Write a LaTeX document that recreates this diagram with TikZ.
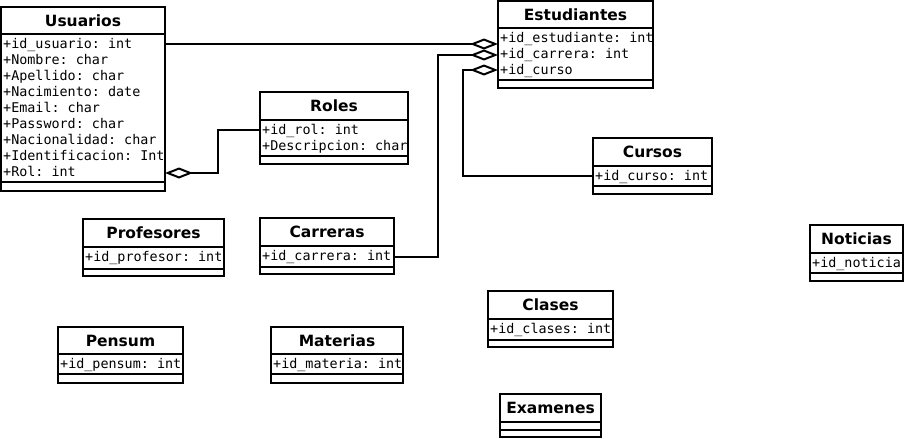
\documentclass[tikz,border=0pt]{standalone}
\usepackage{fontspec}
\setmainfont{DejaVu Sans}
\setmonofont{DejaVu Sans Mono}
\usetikzlibrary{arrows.meta}
\tikzset{
  cls/.style={draw, line width=2.5pt, rectangle, outer sep=0pt, inner sep=0pt, anchor=north west},
  ttl/.style={font=\fontsize{15.5}{18}\selectfont\bfseries, inner sep=0pt},
  att/.style={font=\fontsize{13.4}{16}\selectfont\ttfamily, inner sep=0pt, anchor=base west},
  sepl/.style={line width=2.5pt},
  assoc/.style={line width=2pt, -{Diamond[open, length=28pt, width=11pt]}},
}
\begin{document}
\begin{tikzpicture}[x=1pt, y=-1pt]
\fill[white] (0,0) rectangle (905,439);
\useasboundingbox (0,0) rectangle (905,439);

% Usuarios
\node[cls, minimum width=164pt, minimum height=184pt] (usuarios) at (1,7) {};
\draw[sepl] (usuarios.west |- 0,34) -- (usuarios.east |- 0,34);
\draw[sepl] (usuarios.west |- 0,182) -- (usuarios.east |- 0,182);
\node[ttl] (usuariosT) at (83,20.5) {Usuarios};
\node[att] (u1) at (3,48) {+id\_usuario: int};
\node[att] (u2) at (3,64.1) {+Nombre: char};
\node[att] (u3) at (3,80.2) {+Apellido: char};
\node[att] (u4) at (3,96.3) {+Nacimiento: date};
\node[att] (u5) at (3,112.4) {+Email: char};
\node[att] (u6) at (3,128.5) {+Password: char};
\node[att] (u7) at (3,144.6) {+Nacionalidad: char};
\node[att] (u8) at (3,160.7) {+Identificacion: Int};
\node[att] (u9) at (3,176.8) {+Rol: int};

% Estudiantes
\node[cls, minimum width=155pt, minimum height=87pt] (estudiantes) at (498,1) {};
\draw[sepl] (estudiantes.west |- 0,28) -- (estudiantes.east |- 0,28);
\draw[sepl] (estudiantes.west |- 0,80) -- (estudiantes.east |- 0,80);
\node[ttl] (estudiantesT) at (575.5,14.5) {Estudiantes};
\node[att] (e1) at (500,42.5) {+id\_estudiante: int};
\node[att] (e2) at (500,58.5) {+id\_carrera: int};
\node[att] (e3) at (500,74.5) {+id\_curso};

% Roles
\node[cls, minimum width=148pt, minimum height=72pt] (roles) at (260,92) {};
\draw[sepl] (roles.west |- 0,120) -- (roles.east |- 0,120);
\draw[sepl] (roles.west |- 0,156) -- (roles.east |- 0,156);
\node[ttl] (rolesT) at (334,106) {Roles};
\node[att] (r1) at (262,134) {+id\_rol: int};
\node[att] (r2) at (262,150) {+Descripcion: char};

% Cursos
\node[cls, minimum width=119pt, minimum height=56pt] (cursos) at (593,138) {};
\draw[sepl] (cursos.west |- 0,166) -- (cursos.east |- 0,166);
\draw[sepl] (cursos.west |- 0,186) -- (cursos.east |- 0,186);
\node[ttl] (cursosT) at (652.5,152) {Cursos};
\node[att] (c1) at (595,180) {+id\_curso: int};

% Profesores
\node[cls, minimum width=141pt, minimum height=57pt] (profesores) at (83,219) {};
\draw[sepl] (profesores.west |- 0,247) -- (profesores.east |- 0,247);
\draw[sepl] (profesores.west |- 0,269) -- (profesores.east |- 0,269);
\node[ttl] (profesoresT) at (153.5,233) {Profesores};
\node[att] (p1) at (85,261) {+id\_profesor: int};

% Carreras
\node[cls, minimum width=134pt, minimum height=56pt] (carreras) at (260,218) {};
\draw[sepl] (carreras.west |- 0,246) -- (carreras.east |- 0,246);
\draw[sepl] (carreras.west |- 0,267) -- (carreras.east |- 0,267);
\node[ttl] (carrerasT) at (327,232) {Carreras};
\node[att] (ca1) at (262,260) {+id\_carrera: int};

% Pensum
\node[cls, minimum width=125pt, minimum height=56pt] (pensum) at (58,327) {};
\draw[sepl] (pensum.west |- 0,354) -- (pensum.east |- 0,354);
\draw[sepl] (pensum.west |- 0,374) -- (pensum.east |- 0,374);
\node[ttl] (pensumT) at (120.5,340.5) {Pensum};
\node[att] (pe1) at (60,368) {+id\_pensum: int};

% Materias
\node[cls, minimum width=132pt, minimum height=56pt] (materias) at (271,327) {};
\draw[sepl] (materias.west |- 0,354) -- (materias.east |- 0,354);
\draw[sepl] (materias.west |- 0,374) -- (materias.east |- 0,374);
\node[ttl] (materiasT) at (337,340.5) {Materias};
\node[att] (m1) at (273,368) {+id\_materia: int};

% Noticias
\node[cls, minimum width=93pt, minimum height=56pt] (noticias) at (810,225) {};
\draw[sepl] (noticias.west |- 0,253) -- (noticias.east |- 0,253);
\draw[sepl] (noticias.west |- 0,273) -- (noticias.east |- 0,273);
\node[ttl] (noticiasT) at (856.5,239) {Noticias};
\node[att] (n1) at (812,267) {+id\_noticia};

% Clases
\node[cls, minimum width=125pt, minimum height=56pt] (clases) at (488,291) {};
\draw[sepl] (clases.west |- 0,319) -- (clases.east |- 0,319);
\draw[sepl] (clases.west |- 0,340) -- (clases.east |- 0,340);
\node[ttl] (clasesT) at (550.5,305) {Clases};
\node[att] (cl1) at (490,333) {+id\_clases: int};

% Examenes
\node[cls, minimum width=101pt, minimum height=43pt] (examenes) at (500,394) {};
\draw[sepl] (examenes.west |- 0,422) -- (examenes.east |- 0,422);
\draw[sepl] (examenes.west |- 0,430) -- (examenes.east |- 0,430);
\node[ttl] (examenesT) at (550.5,408) {Examenes};

% Connectors
\draw[assoc] (usuarios.east |- 0,44) -- (estudiantes.west |- 0,44);
\draw[assoc] (carreras.east |- 0,257) -- (438,257) -- (438,55) -- (estudiantes.west |- 0,55);
\draw[assoc] (cursos.west |- 0,176) -- (463,176) -- (463,70) -- (estudiantes.west |- 0,70);
\draw[assoc] (roles.west |- 0,130) -- (218,130) -- (218,173) -- (usuarios.east |- 0,173);
\end{tikzpicture}
\end{document}
